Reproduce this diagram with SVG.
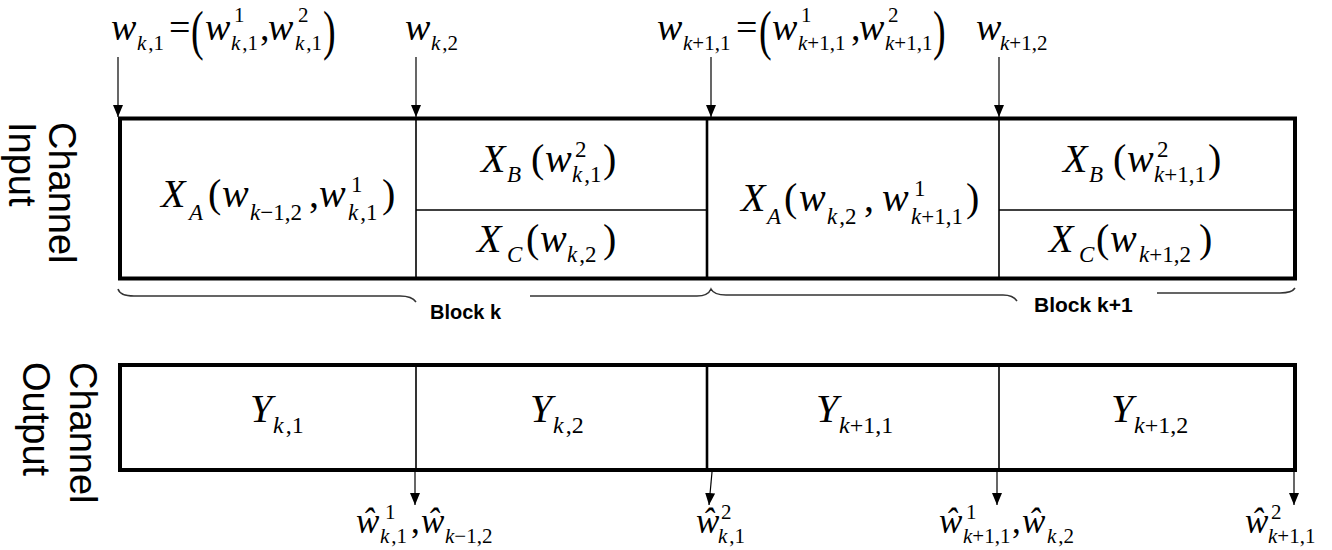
<svg xmlns="http://www.w3.org/2000/svg" width="1332" height="550" viewBox="0 0 1332 550">
<defs>
<marker id="ah" markerUnits="userSpaceOnUse" markerWidth="12" markerHeight="10" refX="12" refY="5" orient="auto" viewBox="0 0 12 10"><path d="M0,0 L12,5 L0,10 z" fill="#000"/></marker>
<style>
.m{font-family:"Liberation Serif","Times New Roman",serif;font-style:italic;fill:#000}
.up{font-style:normal}
.t{font-size:38px}
.c{font-size:40px}
.b{font-size:35px}
.s{font-size:21px}
.cs{font-size:23px}
.ys{font-size:24px}
.lab{font-family:"Liberation Sans",Arial,sans-serif;font-size:38px;fill:#000}
.blk{font-family:"Liberation Sans",Arial,sans-serif;font-size:20px;font-weight:bold;fill:#000}
.box{fill:#fff;stroke:#000;stroke-width:4}
.dv{stroke:#000;stroke-width:1.6;fill:none}
.dvt{stroke:#000;stroke-width:2.6;fill:none}
.arr{stroke:#000;stroke-width:1.2;fill:none;marker-end:url(#ah)}
.br{stroke:#333;stroke-width:1.5;fill:none}
</style>
</defs>
<rect width="1332" height="550" fill="#fff"/>

<g id="label-input">
<text class="lab" transform="translate(49,122) rotate(90)"><tspan x="0" y="0">Channel</tspan><tspan x="0" y="40">Input</tspan></text>
</g>
<g id="label-output">
<text class="lab" transform="translate(70,362) rotate(90)"><tspan x="0" y="0">Channel</tspan><tspan x="0" y="47">Output</tspan></text>
</g>

<g id="input-row">
<rect class="box" x="120" y="118.5" width="1175" height="160"/>
<line class="dv" x1="416" y1="118.5" x2="416" y2="278.5"/>
<line class="dvt" x1="707" y1="118.5" x2="707" y2="278.5"/>
<line class="dv" x1="999" y1="118.5" x2="999" y2="278.5"/>
<line class="dv" x1="416" y1="210" x2="707" y2="210"/>
<line class="dv" x1="999" y1="210" x2="1295" y2="210"/>
</g>

<g id="cell-xa-k">
<text class="m c"><tspan x="161" y="207">X</tspan><tspan class="cs" x="189" y="220">A</tspan><tspan class="up" x="208" y="207">(</tspan><tspan x="222" y="207">w</tspan><tspan class="cs" x="250" y="220">k</tspan><tspan class="cs up">−1,2</tspan><tspan class="up" x="309" y="207">,</tspan><tspan x="319" y="207">w</tspan><tspan class="cs up" x="351" y="192">1</tspan><tspan class="cs" x="348" y="220">k</tspan><tspan class="cs up" dx="2">,1</tspan><tspan class="up" x="382" y="207">)</tspan></text>
</g>
<g id="cell-xb-k">
<text class="m c"><tspan x="481" y="172">X</tspan><tspan class="cs" x="507" y="182">B</tspan><tspan class="up" x="531" y="172">(</tspan><tspan x="545" y="172">w</tspan><tspan class="cs up" x="575" y="157">2</tspan><tspan class="cs" x="572" y="182">k</tspan><tspan class="cs up" dx="2">,1</tspan><tspan class="up" x="603" y="172">)</tspan></text>
</g>
<g id="cell-xc-k">
<text class="m c"><tspan x="477" y="252">X</tspan><tspan class="cs" x="507" y="262">C</tspan><tspan class="up" x="526" y="252">(</tspan><tspan x="540" y="252">w</tspan><tspan class="cs" x="567" y="262">k</tspan><tspan class="cs up" dx="2">,2</tspan><tspan class="up" x="603" y="252">)</tspan></text>
</g>
<g id="cell-xa-k1">
<text class="m c"><tspan x="741" y="211">X</tspan><tspan class="cs" x="767" y="224">A</tspan><tspan class="up" x="784" y="211">(</tspan><tspan x="799" y="211">w</tspan><tspan class="cs" x="827" y="224">k</tspan><tspan class="cs up" dx="2">,2</tspan><tspan class="up" x="864" y="211">,</tspan><tspan x="882" y="211">w</tspan><tspan class="cs up" x="914" y="196">1</tspan><tspan class="cs" x="911" y="224">k</tspan><tspan class="cs up">+1,1</tspan><tspan class="up" x="966" y="211">)</tspan></text>
</g>
<g id="cell-xb-k1">
<text class="m c"><tspan x="1063" y="172">X</tspan><tspan class="cs" x="1089" y="182">B</tspan><tspan class="up" x="1113" y="172">(</tspan><tspan x="1127" y="172">w</tspan><tspan class="cs up" x="1157" y="157">2</tspan><tspan class="cs" x="1154" y="182">k</tspan><tspan class="cs up">+1,1</tspan><tspan class="up" x="1208" y="172">)</tspan></text>
</g>
<g id="cell-xc-k1">
<text class="m c"><tspan x="1049" y="252">X</tspan><tspan class="cs" x="1079" y="262">C</tspan><tspan class="up" x="1096" y="252">(</tspan><tspan x="1110" y="252">w</tspan><tspan class="cs" x="1139" y="262">k</tspan><tspan class="cs up">+1,2</tspan><tspan class="up" x="1199" y="252">)</tspan></text>
</g>

<g id="output-row">
<rect class="box" x="120" y="365" width="1175" height="105"/>
<line class="dv" x1="416" y1="365" x2="416" y2="470"/>
<line class="dvt" x1="707" y1="365" x2="707" y2="470"/>
<line class="dv" x1="999" y1="365" x2="999" y2="470"/>
</g>
<g id="cell-y-k1"><text class="m c"><tspan x="250" y="422">Y</tspan><tspan class="ys" x="273" y="433">k</tspan><tspan class="ys up" dx="2">,1</tspan></text></g>
<g id="cell-y-k2"><text class="m c"><tspan x="530" y="422">Y</tspan><tspan class="ys" x="553" y="433">k</tspan><tspan class="ys up" dx="2">,2</tspan></text></g>
<g id="cell-y-k11"><text class="m c"><tspan x="816" y="422">Y</tspan><tspan class="ys" x="839" y="433">k</tspan><tspan class="ys up">+1,1</tspan></text></g>
<g id="cell-y-k12"><text class="m c"><tspan x="1111" y="422">Y</tspan><tspan class="ys" x="1134" y="433">k</tspan><tspan class="ys up">+1,2</tspan></text></g>

<g id="top-labels">
<text class="m t"><tspan x="111" y="40">w</tspan><tspan class="s" x="137" y="50">k</tspan><tspan class="s up" dx="2">,1</tspan><tspan class="up" x="169" y="40">=</tspan><tspan x="205" y="40">w</tspan><tspan class="s up" x="234" y="22">1</tspan><tspan class="s" x="231" y="50">k</tspan><tspan class="s up" dx="2">,1</tspan><tspan class="up" x="260" y="40">,</tspan><tspan x="268" y="40">w</tspan><tspan class="s up" x="298" y="22">2</tspan><tspan class="s" x="295" y="50">k</tspan><tspan class="s up" dx="2">,1</tspan></text>
<text class="m t up" transform="translate(191,49) scale(1,1.42)">(</text>
<text class="m t up" transform="translate(323,49) scale(1,1.42)">)</text>
<text class="m t"><tspan x="405" y="40">w</tspan><tspan class="s" x="431" y="50">k</tspan><tspan class="s up" dx="2">,2</tspan></text>
<text class="m t"><tspan x="657" y="40">w</tspan><tspan class="s" x="683" y="50">k</tspan><tspan class="s up">+1,1</tspan><tspan class="up" x="736" y="40">=</tspan><tspan x="772" y="40">w</tspan><tspan class="s up" x="801" y="22">1</tspan><tspan class="s" x="798" y="50">k</tspan><tspan class="s up">+1,1</tspan><tspan class="up" x="851" y="40">,</tspan><tspan x="859" y="40">w</tspan><tspan class="s up" x="888" y="22">2</tspan><tspan class="s" x="885" y="50">k</tspan><tspan class="s up">+1,1</tspan></text>
<text class="m t up" transform="translate(759,49) scale(1,1.42)">(</text>
<text class="m t up" transform="translate(933,49) scale(1,1.42)">)</text>
<text class="m t"><tspan x="976" y="40">w</tspan><tspan class="s" x="1000" y="50">k</tspan><tspan class="s up">+1,2</tspan></text>
</g>

<g id="bottom-labels">
<text class="m b"><tspan x="356" y="533">ŵ</tspan><tspan class="s up" x="385" y="519">1</tspan><tspan class="s" x="380" y="543">k</tspan><tspan class="s up" dx="2">,1</tspan><tspan class="up" x="411" y="533">,</tspan><tspan x="421" y="533">ŵ</tspan><tspan class="s" x="445" y="543">k</tspan><tspan class="s up">−1,2</tspan></text>
<text class="m b"><tspan x="696" y="533">ŵ</tspan><tspan class="s up" x="721" y="519">2</tspan><tspan class="s" x="718" y="543">k</tspan><tspan class="s up" dx="2">,1</tspan></text>
<text class="m b"><tspan x="939" y="533">ŵ</tspan><tspan class="s up" x="966" y="519">1</tspan><tspan class="s" x="963" y="543">k</tspan><tspan class="s up">+1,1</tspan><tspan class="up" x="1012" y="533">,</tspan><tspan x="1022" y="533">ŵ</tspan><tspan class="s" x="1047" y="543">k</tspan><tspan class="s up" dx="2">,2</tspan></text>
<text class="m b"><tspan x="1245" y="533">ŵ</tspan><tspan class="s up" x="1271" y="519">2</tspan><tspan class="s" x="1268" y="543">k</tspan><tspan class="s up">+1,1</tspan></text>
</g>

<g id="braces">
<path class="br" d="M118,289 Q120,296 134,296 L400,296 Q412,296 416,302 M530,296 L697,296 Q708,296 711,289 Q714,295 726,295 L1003,295 Q1013,295 1017,301 M1157,293 L1280,293 Q1292,293 1295,288"/>
<text class="blk" x="430" y="319">Block k</text>
<text class="blk" x="1034" y="312" style="font-size:21px">Block k+1</text>
</g>

<g id="connectors">
<line class="arr" x1="118" y1="57" x2="118" y2="117"/>
<line class="arr" x1="416" y1="57" x2="416" y2="117"/>
<line class="arr" x1="711" y1="57" x2="711" y2="117"/>
<line class="arr" x1="999" y1="57" x2="999" y2="117"/>
<line class="arr" x1="415" y1="472" x2="415" y2="505"/>
<line class="arr" x1="712" y1="472" x2="709" y2="505"/>
<line class="arr" x1="997" y1="472" x2="997" y2="505"/>
<line class="arr" x1="1294" y1="472" x2="1294" y2="505"/>
</g>
</svg>
